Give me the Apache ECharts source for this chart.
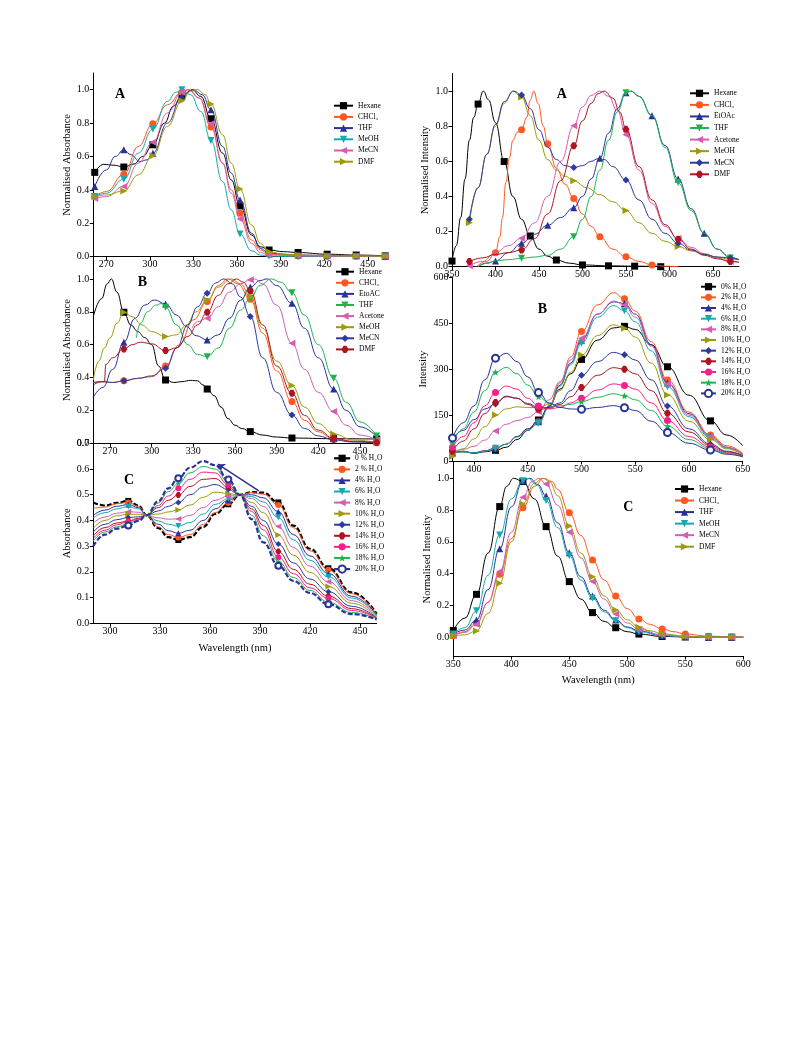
<!DOCTYPE html>
<html><head><meta charset="utf-8">
<script src="https://cdn.jsdelivr.net/npm/echarts@6/dist/echarts.min.js"></script>
<style>html,body{margin:0;padding:0;background:#fff}#c{width:793px;height:1057px}</style>
</head><body><div id="c"></div>
<script>
const FONT = "'Liberation Serif','Times New Roman',serif";

// ================= Left A : normalised absorbance =================
const LA_xTicks = [270,300,330,360,390,420,450];
const LA_yTicks = [0,0.2,0.4,0.6,0.8,1.0];
const LA_marks = [262,282,302,322,342,362,382,402,422,442,462];
const LA_hexane = [[262,0.505],[268,0.553],[275,0.548],[282,0.537],[289,0.555],[295,0.60],[302,0.67],[310,0.80],[316,0.90],[322,0.965],[329,1.0],[335,0.96],[342,0.826],[350,0.62],[356,0.46],[362,0.304],[370,0.13],[376,0.06],[382,0.04],[392,0.03],[402,0.025],[422,0.015],[442,0.01],[462,0.005]];
const LA_chcl3 = [[262,0.36],[270,0.39],[282,0.493],[292,0.66],[302,0.796],[312,0.91],[322,0.985],[327,1.0],[334,0.95],[342,0.776],[350,0.56],[356,0.40],[362,0.26],[370,0.10],[376,0.04],[382,0.015],[402,0.005],[422,0.003],[442,0.002],[462,0.0]];
const LA_thf = [[262,0.42],[270,0.52],[276,0.60],[282,0.64],[287,0.61],[293,0.57],[298,0.58],[302,0.62],[312,0.80],[322,0.96],[330,1.0],[336,0.97],[342,0.88],[350,0.66],[356,0.50],[362,0.34],[370,0.14],[376,0.05],[382,0.02],[402,0.01],[422,0.008],[442,0.005],[462,0.003]];
const LA_meoh = [[262,0.36],[270,0.38],[282,0.464],[292,0.62],[302,0.764],[312,0.93],[318,0.985],[322,1.0],[328,0.97],[335,0.87],[342,0.696],[350,0.45],[356,0.28],[362,0.136],[370,0.035],[376,0.01],[382,0.003],[402,0.0],[422,0.0],[442,0.0],[462,0.0]];
const LA_mecn = [[262,0.348],[270,0.36],[282,0.42],[292,0.56],[302,0.686],[312,0.86],[322,0.986],[326,1.0],[334,0.95],[342,0.796],[350,0.56],[356,0.38],[362,0.226],[370,0.08],[376,0.025],[382,0.01],[402,0.005],[422,0.004],[442,0.004],[462,0.003]];
const LA_dmf = [[262,0.36],[270,0.37],[282,0.394],[292,0.49],[302,0.604],[312,0.78],[322,0.934],[328,0.99],[333,1.0],[338,0.97],[342,0.914],[350,0.73],[356,0.56],[362,0.406],[370,0.19],[376,0.08],[382,0.03],[392,0.015],[402,0.01],[422,0.006],[442,0.004],[462,0.003]];

// ================= Left B : normalised absorbance =================
const LB_xTicks = [270,300,330,360,390,420,450];
const LB_yTicks = [0,0.2,0.4,0.6,0.8,1.0];
const LB_marks = [280,310,340,371,401,431,462];
const LB_hexane = [[258,0.77],[264,0.88],[268,0.97],[271,1.0],[275,0.92],[280,0.797],[285,0.72],[290,0.68],[295,0.643],[300,0.60],[305,0.47],[310,0.385],[316,0.37],[322,0.375],[328,0.383],[333,0.38],[337,0.355],[340,0.33],[345,0.29],[350,0.22],[355,0.15],[360,0.11],[365,0.09],[371,0.071],[380,0.05],[390,0.038],[401,0.032],[431,0.028],[462,0.026]];
const LB_chcl3 = [[258,0.37],[265,0.375],[272,0.37],[280,0.38],[290,0.395],[300,0.405],[310,0.47],[320,0.60],[330,0.75],[340,0.862],[348,0.96],[355,1.0],[362,0.97],[371,0.876],[380,0.67],[390,0.44],[401,0.254],[410,0.14],[420,0.07],[431,0.025],[445,0.01],[462,0.003]];
const LB_etoac = [[258,0.28],[265,0.34],[272,0.45],[280,0.615],[288,0.76],[295,0.84],[302,0.872],[310,0.848],[318,0.78],[325,0.71],[332,0.655],[340,0.629],[348,0.66],[356,0.76],[364,0.87],[371,0.95],[378,0.99],[383,1.0],[390,0.96],[401,0.852],[410,0.70],[420,0.52],[431,0.33],[440,0.2],[450,0.1],[462,0.04]];
const LB_thf = [[289,0.643],[292,0.73],[297,0.80],[303,0.84],[307,0.85],[310,0.828],[318,0.72],[326,0.60],[333,0.54],[340,0.527],[348,0.58],[356,0.70],[364,0.81],[371,0.88],[378,0.96],[386,1.0],[393,0.98],[401,0.915],[410,0.78],[420,0.60],[431,0.396],[440,0.25],[450,0.13],[462,0.045]];
const LB_acetone = [[329,0.70],[333,0.74],[340,0.76],[348,0.83],[356,0.92],[364,0.97],[371,0.995],[374,1.0],[380,0.97],[390,0.84],[401,0.608],[410,0.45],[420,0.31],[431,0.193],[440,0.11],[450,0.05],[462,0.02]];
const LB_meoh = [[258,0.385],[262,0.50],[266,0.58],[270,0.64],[275,0.73],[280,0.797],[286,0.77],[293,0.72],[300,0.68],[310,0.649],[318,0.66],[325,0.72],[332,0.80],[340,0.87],[348,0.95],[357,1.0],[364,0.97],[371,0.892],[380,0.70],[390,0.50],[401,0.351],[410,0.22],[420,0.12],[431,0.057],[445,0.02],[462,0.005]];
const LB_mecn = [[258,0.355],[264,0.375],[272,0.37],[280,0.38],[290,0.395],[300,0.41],[310,0.456],[318,0.58],[326,0.72],[333,0.83],[340,0.913],[346,0.975],[352,1.0],[358,0.97],[364,0.89],[371,0.771],[380,0.52],[390,0.31],[401,0.172],[410,0.09],[420,0.045],[431,0.02],[445,0.008],[462,0.003]];
const LB_dmf = [[258,0.37],[266,0.375],[267,0.48],[272,0.52],[280,0.574],[286,0.60],[292,0.615],[300,0.605],[310,0.564],[318,0.58],[326,0.65],[333,0.72],[340,0.797],[348,0.90],[355,0.97],[361,1.0],[366,0.98],[371,0.927],[380,0.72],[390,0.47],[401,0.304],[410,0.17],[420,0.08],[431,0.03],[445,0.012],[462,0.005]];

// ================= Left C : absorbance vs water fraction =================
const LC_xTicks = [300,330,360,390,420,450];
const LC_yTicks = [0,0.1,0.2,0.3,0.4,0.5,0.6,0.7];
const LC_marks = [311,341,371,401,431];
const LC_x = [290,297,304,311,317,322,329,335,341,348,356,363,371,378,385,392,401,410,420,431,445,460];
const LC_w0  = [0.470,0.458,0.468,0.476,0.458,0.420,0.370,0.335,0.324,0.335,0.375,0.425,0.463,0.500,0.510,0.508,0.470,0.380,0.290,0.214,0.120,0.037];
const LC_w2  = [0.447,0.452,0.465,0.470,0.455,0.420,0.375,0.345,0.334,0.345,0.385,0.430,0.468,0.500,0.508,0.502,0.460,0.372,0.282,0.208,0.115,0.035];
const LC_w4  = [0.420,0.440,0.455,0.462,0.450,0.420,0.385,0.360,0.350,0.362,0.400,0.445,0.478,0.498,0.500,0.488,0.434,0.345,0.262,0.194,0.105,0.032];
const LC_w6  = [0.410,0.430,0.445,0.454,0.445,0.420,0.398,0.385,0.378,0.392,0.425,0.462,0.485,0.497,0.493,0.472,0.411,0.325,0.245,0.181,0.098,0.030];
const LC_w8  = [0.390,0.413,0.428,0.434,0.432,0.420,0.410,0.405,0.406,0.420,0.450,0.478,0.495,0.497,0.485,0.455,0.376,0.295,0.222,0.162,0.088,0.028];
const LC_w10 = [0.370,0.400,0.418,0.424,0.424,0.420,0.425,0.433,0.441,0.460,0.490,0.510,0.505,0.498,0.470,0.430,0.343,0.265,0.198,0.143,0.078,0.025];
const LC_w12 = [0.355,0.385,0.403,0.411,0.414,0.420,0.437,0.455,0.470,0.500,0.530,0.540,0.520,0.499,0.455,0.400,0.308,0.235,0.172,0.123,0.066,0.022];
const LC_w14 = [0.340,0.372,0.390,0.398,0.408,0.420,0.450,0.478,0.499,0.532,0.560,0.563,0.529,0.499,0.445,0.380,0.279,0.210,0.152,0.106,0.057,0.020];
const LC_w16 = [0.330,0.362,0.383,0.395,0.405,0.420,0.458,0.495,0.525,0.560,0.588,0.585,0.538,0.499,0.435,0.363,0.257,0.193,0.138,0.097,0.050,0.019];
const LC_w18 = [0.320,0.355,0.375,0.387,0.402,0.420,0.468,0.512,0.544,0.585,0.610,0.600,0.550,0.499,0.420,0.340,0.240,0.178,0.128,0.082,0.042,0.017];
const LC_w20 = [0.300,0.345,0.368,0.380,0.398,0.420,0.475,0.525,0.564,0.605,0.631,0.615,0.559,0.499,0.405,0.315,0.224,0.165,0.118,0.074,0.036,0.015];
const LC_arrow = [[389.3,0.515],[364.7,0.619]];

// ================= Right A : normalised emission =================
const RA_xTicks = [350,400,450,500,550,600,650];
const RA_yTicks = [0,0.2,0.4,0.6,0.8,1.0];
const RA_marksHex = [350,380,410,440,470,500,530,560,590];
const RA_marksCHCl3 = [400,430,460,490,520,550,580];
const RA_marks30 = [400,430,460,490,520,550,580,610,640,670];
const RA_marks60 = [370,430,490,550,610,670];
const RA_hexane = [[350,0.032],[355,0.12],[360,0.28],[365,0.50],[370,0.72],[375,0.85],[380,0.926],[386,1.0],[392,0.95],[400,0.82],[410,0.599],[420,0.40],[430,0.27],[440,0.175],[450,0.10],[460,0.06],[470,0.038],[485,0.02],[500,0.01],[530,0.005],[560,0.003],[590,0.0]];
const RA_chcl3 = [[378,0.0],[390,0.03],[400,0.08],[405,0.17],[408,0.28],[412,0.48],[416,0.62],[420,0.72],[425,0.765],[430,0.78],[436,0.85],[440,0.95],[444,1.0],[449,0.93],[455,0.80],[460,0.70],[470,0.56],[480,0.47],[490,0.388],[500,0.30],[510,0.23],[520,0.171],[535,0.10],[550,0.057],[565,0.03],[580,0.01],[595,0.003],[610,0.0]];
const RA_etoac = [[380,0.0],[390,0.02],[400,0.032],[415,0.08],[430,0.133],[445,0.185],[460,0.236],[475,0.28],[490,0.336],[500,0.40],[510,0.50],[520,0.618],[530,0.76],[540,0.90],[550,0.99],[556,1.0],[565,0.97],[580,0.86],[595,0.69],[610,0.50],[625,0.33],[640,0.19],[655,0.10],[670,0.053],[680,0.04]];
const RA_thf = [[380,0.0],[390,0.02],[400,0.033],[415,0.04],[430,0.048],[445,0.055],[460,0.065],[475,0.10],[490,0.171],[500,0.27],[510,0.40],[520,0.55],[530,0.72],[540,0.88],[550,0.99],[556,1.0],[565,0.97],[580,0.86],[595,0.68],[610,0.479],[625,0.32],[640,0.19],[655,0.10],[670,0.05],[680,0.04]];
const RA_acetone = [[370,0.005],[385,0.03],[400,0.08],[415,0.12],[430,0.162],[445,0.25],[460,0.40],[475,0.60],[490,0.802],[500,0.91],[510,0.975],[520,1.0],[530,0.97],[540,0.89],[550,0.751],[565,0.55],[580,0.36],[595,0.23],[610,0.16],[625,0.11],[640,0.075],[655,0.05],[670,0.03],[680,0.025]];
const RA_meoh = [[370,0.25],[380,0.45],[390,0.64],[400,0.80],[410,0.93],[420,1.0],[430,0.966],[440,0.86],[450,0.72],[460,0.61],[470,0.55],[480,0.515],[490,0.489],[505,0.45],[520,0.41],[535,0.37],[550,0.32],[565,0.25],[580,0.19],[595,0.145],[610,0.115],[625,0.09],[640,0.07],[655,0.055],[670,0.04],[680,0.04]];
const RA_mecn = [[370,0.27],[380,0.45],[390,0.64],[400,0.81],[410,0.94],[421,1.0],[430,0.977],[440,0.90],[450,0.78],[460,0.68],[470,0.61],[480,0.575],[490,0.565],[500,0.575],[510,0.60],[518,0.615],[525,0.61],[535,0.57],[550,0.494],[565,0.38],[580,0.27],[595,0.19],[610,0.133],[625,0.095],[640,0.07],[655,0.055],[670,0.05],[680,0.04]];
const RA_dmf = [[370,0.03],[385,0.05],[400,0.07],[415,0.08],[430,0.095],[445,0.16],[460,0.30],[475,0.49],[490,0.688],[500,0.83],[510,0.93],[518,0.985],[525,1.0],[535,0.96],[543,0.88],[550,0.783],[565,0.57],[580,0.38],[595,0.24],[610,0.156],[625,0.10],[640,0.065],[655,0.045],[670,0.03],[680,0.025]];

// ================= Right B : emission intensity vs water =================
const RB_xTicks = [400,450,500,550,600,650];
const RB_yTicks = [0,150,300,450,600];
const RB_marks = [380,420,460,500,540,580,620];
const RB_x = [380,390,400,410,420,430,440,450,460,470,480,490,500,515,530,540,550,565,580,600,620,635,650];
const RB_w0  = [28,32,25,30,35,45,70,100,134,180,235,285,332,395,435,440,430,380,308,215,131,85,50];
const RB_w2  = [25,30,27,33,42,55,80,105,128,180,255,340,423,510,550,530,490,390,265,160,85,50,25];
const RB_w4  = [25,30,27,33,42,55,80,105,128,178,248,320,395,480,520,515,480,380,255,155,80,45,22];
const RB_w6  = [28,30,26,32,42,55,78,100,123,175,245,315,385,470,508,491,455,360,243,145,75,42,22];
const RB_w8  = [28,38,48,68,98,120,132,142,161,200,260,330,401,480,523,510,470,375,252,150,80,45,22];
const RB_w10 = [15,40,72,112,150,170,177,175,175,185,230,290,346,410,445,434,405,320,216,130,70,40,20];
const RB_w12 = [72,100,135,170,186,212,205,188,175,175,190,230,280,325,355,347,330,265,180,105,55,32,18];
const RB_w14 = [32,65,105,155,191,210,205,185,169,172,185,210,240,280,305,300,285,230,156,95,50,30,17];
const RB_w16 = [45,80,125,180,224,245,235,205,180,170,175,190,205,232,252,247,235,190,132,80,45,27,15];
const RB_w18 = [58,105,160,230,290,306,285,248,210,188,180,185,194,208,220,213,200,165,114,70,40,25,14];
const RB_w20 = [75,125,180,265,336,352,325,275,224,190,175,170,169,175,181,174,165,130,93,58,36,22,14];

// ================= Right C : normalised emission =================
const RC_xTicks = [350,400,450,500,550,600];
const RC_yTicks = [0,0.2,0.4,0.6,0.8,1.0];
const RC_marks = [350,370,390,410,430,450,470,490,510,530,550,570,590];
const RC_hexane = [[350,0.042],[360,0.12],[370,0.27],[380,0.53],[390,0.822],[396,0.95],[402,1.0],[410,0.98],[420,0.87],[430,0.696],[440,0.51],[450,0.35],[460,0.24],[470,0.155],[480,0.10],[490,0.06],[500,0.035],[510,0.02],[530,0.005],[550,0.002],[570,0.0],[590,0.0],[600,0.0]];
const RC_chcl3 = [[350,0.01],[360,0.035],[370,0.09],[380,0.22],[390,0.396],[400,0.62],[410,0.815],[420,0.95],[428,1.0],[435,0.98],[440,0.93],[450,0.784],[460,0.64],[470,0.486],[480,0.36],[490,0.26],[500,0.18],[510,0.115],[520,0.08],[530,0.052],[540,0.035],[550,0.02],[570,0.007],[590,0.002],[600,0.0]];
const RC_thf = [[350,0.02],[360,0.045],[370,0.109],[380,0.30],[390,0.556],[400,0.82],[410,0.983],[416,1.0],[423,0.96],[430,0.889],[440,0.72],[450,0.532],[460,0.38],[470,0.26],[480,0.17],[490,0.109],[500,0.065],[510,0.04],[530,0.012],[550,0.003],[570,0.0],[590,0.0],[600,0.0]];
const RC_meoh = [[350,0.02],[360,0.06],[370,0.166],[380,0.39],[390,0.644],[400,0.87],[410,0.985],[414,1.0],[422,0.96],[430,0.86],[440,0.69],[450,0.512],[460,0.36],[470,0.245],[480,0.16],[490,0.103],[500,0.06],[510,0.035],[530,0.01],[550,0.003],[570,0.0],[590,0.0],[600,0.0]];
const RC_mecn = [[350,0.01],[360,0.03],[370,0.082],[380,0.22],[390,0.413],[400,0.66],[410,0.88],[418,0.98],[424,1.0],[430,0.964],[440,0.83],[450,0.66],[460,0.50],[470,0.35],[480,0.24],[490,0.147],[500,0.09],[510,0.05],[530,0.015],[550,0.005],[570,0.0],[590,0.0],[600,0.0]];
const RC_dmf = [[350,0.01],[360,0.015],[370,0.04],[380,0.15],[390,0.34],[400,0.60],[410,0.839],[420,0.97],[427,1.0],[433,0.98],[440,0.89],[450,0.70],[460,0.53],[470,0.38],[480,0.26],[490,0.172],[500,0.11],[510,0.063],[520,0.04],[530,0.022],[550,0.007],[570,0.002],[590,0.0],[600,0.0]];

// ================= styles =================
const COL = {black:'#000000', orange:'#FF5722', navy:'#2B2F9C', teal:'#17A9AE', pink:'#D45DB0', olive:'#9E9A0C',
             navy2:'#2D3AA0', wine:'#B01420', hotpink:'#F7208A', green:'#1FB350', navy3:'#2A3494'};
const SYM = {sq:'rect', ci:'circle', up:'triangle', down:'path://M0,0L10,0L5,10Z', left:'path://M10,0L10,10L0,5Z',
             right:'path://M0,0L0,10L10,5Z', dia:'diamond', hex:'path://M3,0L7,0L10,5L7,10L3,10L0,5Z',
             star:'path://M5,0L6.3,3.5L10,3.7L7.1,6L8.1,9.6L5,7.5L1.9,9.6L2.9,6L0,3.7L3.7,3.5Z', ocirc:'emptyCircle'};

const zip = (xs, ys) => xs.map((x, i) => [x, ys[i]]);

const panels = [
  {id:'LA', g:[93.3,73,293.4,183.7], x:[261,463], y:[0,1.1], xt:LA_xTicks, yt:LA_yTicks, yName:'Normalised Absorbance', yGap:21, yDec:1,
   leg:{left:333, top:101.2, w:19, gap:2.2}, letter:{t:'A', x:120, y:94.5}, sz:7,
   series:[
    ['Hexane',LA_hexane,LA_marks,COL.black,SYM.sq],
    ['CHCl₃',LA_chcl3,LA_marks,COL.orange,SYM.ci],
    ['THF',LA_thf,LA_marks,COL.navy,SYM.up],
    ['MeOH',LA_meoh,LA_marks,COL.teal,SYM.down],
    ['MeCN',LA_mecn,LA_marks,COL.pink,SYM.left],
    ['DMF',LA_dmf,LA_marks,COL.olive,SYM.right]]},
  {id:'LB', g:[93.3,256.7,283.4,186.6], x:[258,462], y:[0,1.135], xt:LB_xTicks, yt:LB_yTicks, yName:'Normalised Absorbance', yGap:21, yDec:1,
   leg:{left:335, top:267.2, w:18, gap:2.1}, letter:{t:'B', x:142.5, y:282.5}, sz:7,
   series:[
    ['Hexane',LB_hexane,LB_marks,COL.black,SYM.sq],
    ['CHCl₃',LB_chcl3,LB_marks,COL.orange,SYM.ci],
    ['EtoAC',LB_etoac,LB_marks,COL.navy,SYM.up],
    ['THF',LB_thf,LB_marks,COL.green,SYM.down],
    ['Acetone',LB_acetone,LB_marks,COL.pink,SYM.left],
    ['MeOH',LB_meoh,LB_marks,COL.olive,SYM.right],
    ['MeCN',LB_mecn,LB_marks,COL.navy2,SYM.dia],
    ['DMF',LB_dmf,LB_marks,COL.wine,SYM.hex]]},
  {id:'LC', g:[93.3,443.3,283.4,180], x:[290,460], y:[0,0.7], xt:LC_xTicks, yt:LC_yTicks, yName:'Absorbance', yGap:21, yDec:1,
   xName:'Wavelength (nm)', leg:{left:333, top:453.8, w:16, gap:2.07}, letter:{t:'C', x:129, y:480}, sz:6,
   series:[
    ['0 % H₂O',zip(LC_x,LC_w0),LC_marks,COL.black,SYM.sq,{width:2.2,type:[5,2]}],
    ['2 % H₂O',zip(LC_x,LC_w2),LC_marks,COL.orange,SYM.ci],
    ['4% H₂O',zip(LC_x,LC_w4),LC_marks,COL.navy,SYM.up],
    ['6% H₂O',zip(LC_x,LC_w6),LC_marks,COL.teal,SYM.down],
    ['8% H₂O',zip(LC_x,LC_w8),LC_marks,COL.pink,SYM.left],
    ['10% H₂O',zip(LC_x,LC_w10),LC_marks,COL.olive,SYM.right],
    ['12% H₂O',zip(LC_x,LC_w12),LC_marks,COL.navy2,SYM.dia],
    ['14% H₂O',zip(LC_x,LC_w14),LC_marks,COL.wine,SYM.hex],
    ['16% H₂O',zip(LC_x,LC_w16),LC_marks,COL.hotpink,SYM.ci],
    ['18% H₂O',zip(LC_x,LC_w18),LC_marks,COL.green,SYM.star],
    ['20% H₂O',zip(LC_x,LC_w20),LC_marks,COL.navy3,SYM.ocirc,{width:2.2,type:[5,2],arrow:LC_arrow}]]},
  {id:'RA', g:[452,73.5,287,193.2], x:[350,680], y:[0,1.1], xt:RA_xTicks, yt:RA_yTicks, yName:'Normalised Intensity', yGap:21, yDec:1,
   leg:{left:689, top:88.8, w:19, gap:2.57}, letter:{t:'A', x:561.7, y:94}, sz:7,
   series:[
    ['Hexane',RA_hexane,RA_marksHex,COL.black,SYM.sq],
    ['CHCl₃',RA_chcl3,RA_marksCHCl3,COL.orange,SYM.ci],
    ['EtOAc',RA_etoac,RA_marks30,COL.navy,SYM.up],
    ['THF',RA_thf,RA_marks60,COL.green,SYM.down],
    ['Acetone',RA_acetone,RA_marks60,COL.pink,SYM.left],
    ['MeOH',RA_meoh,RA_marks60,COL.olive,SYM.right],
    ['MeCN',RA_mecn,RA_marks60,COL.navy2,SYM.dia],
    ['DMF',RA_dmf,RA_marks60,COL.wine,SYM.hex]]},
  {id:'RB', g:[452.5,277.4,290.2,183.6], x:[380,650], y:[0,600], xt:RB_xTicks, yt:RB_yTicks, yName:'Intensity', yGap:24, yDec:0,
   leg:{left:700, top:282.2, w:15, gap:1.66}, letter:{t:'B', x:542.3, y:309.3}, sz:7,
   series:[
    ['0% H₂O',zip(RB_x,RB_w0),RB_marks,COL.black,SYM.sq],
    ['2% H₂O',zip(RB_x,RB_w2),RB_marks,COL.orange,SYM.ci],
    ['4% H₂O',zip(RB_x,RB_w4),RB_marks,COL.navy,SYM.up],
    ['6% H₂O',zip(RB_x,RB_w6),RB_marks,COL.teal,SYM.down],
    ['8% H₂O',zip(RB_x,RB_w8),RB_marks,COL.pink,SYM.left],
    ['10% H₂O',zip(RB_x,RB_w10),RB_marks,COL.olive,SYM.right],
    ['12% H₂O',zip(RB_x,RB_w12),RB_marks,COL.navy2,SYM.dia],
    ['14% H₂O',zip(RB_x,RB_w14),RB_marks,COL.wine,SYM.hex],
    ['16% H₂O',zip(RB_x,RB_w16),RB_marks,COL.hotpink,SYM.ci],
    ['18% H₂O',zip(RB_x,RB_w18),RB_marks,COL.green,SYM.star],
    ['20% H₂O',zip(RB_x,RB_w20),RB_marks,COL.navy3,SYM.ocirc]]},
  {id:'RC', g:[453.3,462.4,290,193.6], x:[350,600], y:[-0.118,1.1], xt:RC_xTicks, yt:RC_yTicks, yName:'Normalised Intensity', yGap:21, yDec:1,
   xName:'Wavelength (nm)', leg:{left:674, top:484.5, w:19, gap:2.54}, letter:{t:'C', x:628.3, y:507}, sz:7,
   series:[
    ['Hexane',RC_hexane,RC_marks,COL.black,SYM.sq],
    ['CHCl₃',RC_chcl3,RC_marks,COL.orange,SYM.ci],
    ['THF',RC_thf,RC_marks,COL.navy,SYM.up],
    ['MeOH',RC_meoh,RC_marks,COL.teal,SYM.down],
    ['MeCN',RC_mecn,RC_marks,COL.pink,SYM.left],
    ['DMF',RC_dmf,RC_marks,COL.olive,SYM.right]]}
];

const grid = [], xAxis = [], yAxis = [], series = [], legend = [], graphic = [];
const axisBase = (ticks) => ({
  axisLine:{show:true, onZero:false, lineStyle:{color:'#000', width:1}},
  axisTick:{show:true, customValues:ticks, length:3.5, inside:false, lineStyle:{color:'#000', width:1}},
  splitLine:{show:false}
});
panels.forEach((p, i) => {
  grid.push({left:p.g[0], top:p.g[1], width:p.g[2], height:p.g[3], containLabel:false});
  xAxis.push(Object.assign({gridIndex:i, type:'value', min:p.x[0], max:p.x[1],
    name:p.xName||'', nameLocation:'middle', nameGap:19,
    nameTextStyle:{fontFamily:FONT, fontSize:10.5, color:'#000'},
    axisLabel:{customValues:p.xt, fontFamily:FONT, fontSize:10, color:'#000', margin:3}}, axisBase(p.xt)));
  yAxis.push(Object.assign({gridIndex:i, type:'value', min:p.y[0], max:p.y[1],
    name:p.yName, nameLocation:'middle', nameGap:p.yGap,
    nameTextStyle:{fontFamily:FONT, fontSize:10.5, color:'#000'},
    axisLabel:{customValues:p.yt, fontFamily:FONT, fontSize:10, color:'#000', margin:4,
      formatter:(v) => Number(v).toFixed(p.yDec)}}, axisBase(p.yt)));
  const legData = [];
  p.series.forEach((s, k) => {
    const [label, data, marks, color, sym, extra] = s;
    const ex = extra || {};
    const nm = p.id + k + '|' + label;
    legData.push(ex.type ? {name:nm, lineStyle:{type:'solid', width:ex.width}} : {name:nm});
    const size = p.sz;
    const ser = {
      name:nm, type:'line', xAxisIndex:i, yAxisIndex:i, data:data,
      smooth:0.45, smoothMonotone:'x', symbol:sym,
      symbolSize:(v) => marks.indexOf(v[0]) >= 0 ? size : 0,
      lineStyle:{color:color, width:ex.width||1, type:ex.type||'solid'},
      itemStyle:{color:color, borderColor:color, borderWidth: sym === 'emptyCircle' ? 1.8 : 0},
      emphasis:{disabled:true}, animation:false, z:2 + k*0.01
    };
    if (ex.arrow) {
      ser.markLine = {silent:true, symbol:['none','arrow'], symbolSize:7, animation:false,
        lineStyle:{color:color, width:1.5, type:'solid'}, label:{show:false},
        data:[[{coord:ex.arrow[0]},{coord:ex.arrow[1]}]]};
    }
    series.push(ser);
  });
  legend.push({orient:'vertical', left:p.leg.left, top:p.leg.top, padding:0, itemWidth:p.leg.w, itemHeight:9,
    itemGap:p.leg.gap, selectedMode:false, data:legData,
    formatter:(n) => n.split('|')[1],
    textStyle:{fontFamily:FONT, fontSize:7.5, lineHeight:9, color:'#000'}});
  graphic.push({type:'text', x:p.letter.x, y:p.letter.y, z:10,
    style:{text:p.letter.t, x:0, y:0, align:'center', verticalAlign:'middle', font:'bold 14px ' + FONT, fill:'#000'}});
});

const chart = echarts.init(document.getElementById('c'), null, {renderer:'canvas'});
chart.setOption({backgroundColor:'#ffffff', animation:false, grid, xAxis, yAxis, series, legend, graphic});
</script></body></html>
